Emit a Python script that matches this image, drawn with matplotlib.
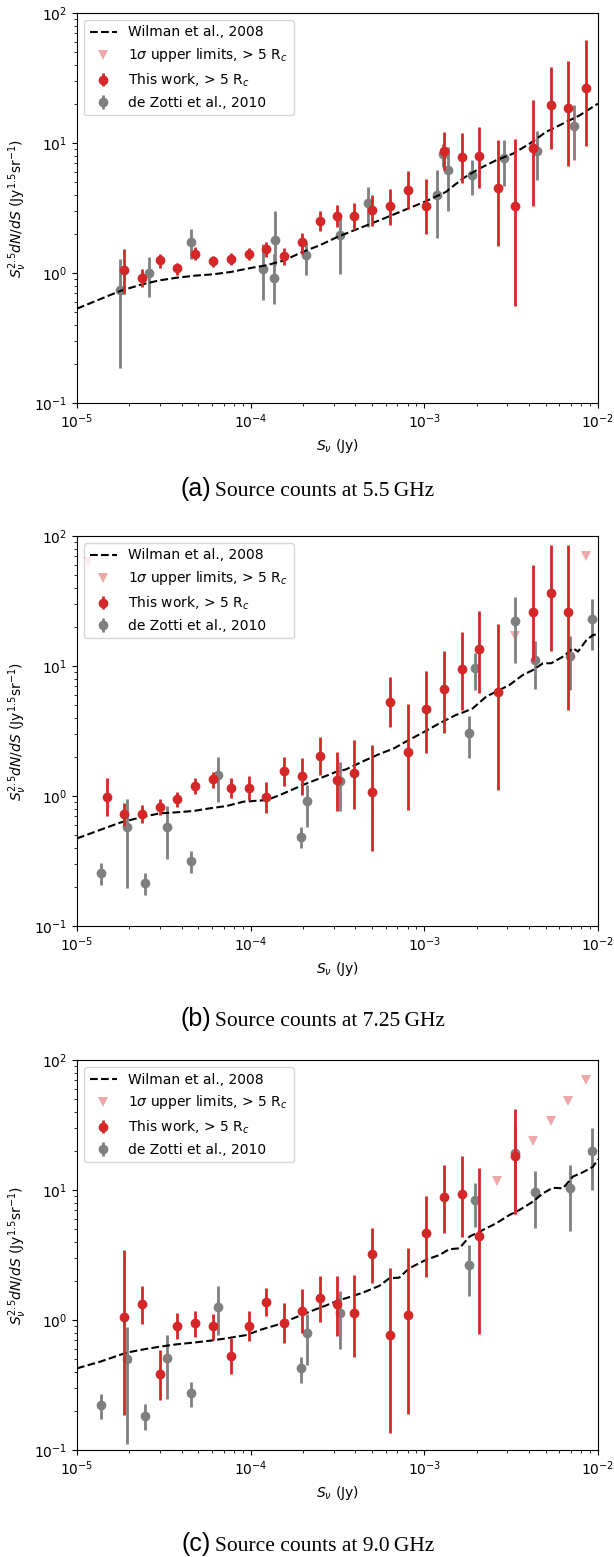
import matplotlib
matplotlib.use('Agg')
import matplotlib.pyplot as plt

# ---- panel (a): 5.5 GHz ----
a_red_s = [1.87e-5, 2.37e-5, 2.99e-5, 3.78e-5, 4.78e-5, 6.07e-5, 7.67e-5, 9.74e-5, 1.23e-4,
           1.56e-4, 1.98e-4, 2.50e-4, 3.15e-4, 3.96e-4, 5.01e-4, 6.37e-4, 8.05e-4, 1.02e-3,
           1.30e-3, 1.64e-3, 2.07e-3, 2.64e-3, 3.33e-3, 4.22e-3, 5.33e-3, 6.75e-3, 8.57e-3]
a_red_v = [1.05, 0.92, 1.25, 1.09, 1.41, 1.23, 1.28, 1.41, 1.53, 1.36, 1.72, 2.51, 2.74, 2.73,
           3.03, 3.26, 4.32, 3.28, 8.68, 7.80, 7.94, 4.53, 3.26, 9.20, 19.6, 18.7, 26.6]
a_red_hi = [1.54, 1.08, 1.41, 1.20, 1.58, 1.35, 1.43, 1.57, 1.73, 1.56, 2.03, 2.98, 3.35, 3.47,
            3.96, 4.45, 6.05, 5.25, 12.1, 11.9, 13.3, 10.5, 10.7, 21.3, 38.4, 42.7, 61.6]
a_red_lo = [0.69, 0.78, 1.09, 0.97, 1.27, 1.11, 1.15, 1.27, 1.33, 1.15, 1.41, 2.10, 2.26, 2.13,
            2.29, 2.33, 3.12, 2.01, 6.16, 4.92, 4.53, 1.61, 0.56, 3.26, 9.04, 6.65, 9.48]
a_lim_s = []
a_lim_v = []
a_grey_s = [1.77e-5, 2.6e-5, 4.53e-5, 1.18e-4, 1.36e-4, 1.38e-4, 2.08e-4, 3.26e-4, 4.75e-4,
            1.19e-3, 1.28e-3, 1.37e-3, 1.88e-3, 2.86e-3, 4.43e-3, 7.28e-3]
a_grey_v = [0.745, 1.0, 1.73, 1.07, 0.91, 1.80, 1.38, 1.95, 3.48, 4.0, 8.18, 6.16, 5.67, 7.62, 8.68, 13.5]
a_grey_hi = [1.29, 1.33, 2.17, 1.68, 1.41, 2.98, 1.73, 2.86, 4.59, 6.17, 9.9, 9.31, 7.36, 10.5, 12.3, 19.5]
a_grey_lo = [0.185, 0.653, 1.29, 0.62, 0.58, 1.15, 0.96, 0.99, 2.26, 1.87, 6.5, 3.0, 3.96, 4.64, 5.16, 7.36]
a_wil_s = [1.0e-5, 1.77e-5, 2.37e-5, 2.99e-5, 3.78e-5, 4.78e-5, 6.07e-5, 7.67e-5, 1.0e-4, 1.23e-4,
           1.56e-4, 1.98e-4, 2.49e-4, 3.15e-4, 3.53e-4, 5.5e-4, 1.0e-3, 1.33e-3, 1.66e-3, 2.07e-3,
           2.59e-3, 3.24e-3, 4.04e-3, 5.04e-3, 6.28e-3, 7.83e-3, 1.0e-2]
a_wil_v = [0.532, 0.727, 0.818, 0.878, 0.921, 0.954, 0.977, 1.018, 1.093, 1.146, 1.25, 1.45, 1.63,
           1.89, 2.01, 2.54, 3.52, 4.2, 5.32, 6.35, 7.36, 8.28, 9.88, 12.2, 14.1, 16.3, 20.1]

# ---- panel (b): 7.25 GHz ----
b_red_s = [1.48e-5, 1.87e-5, 2.37e-5, 2.99e-5, 3.78e-5, 4.78e-5, 6.07e-5, 7.67e-5, 9.74e-5,
           1.23e-4, 1.56e-4, 1.98e-4, 2.50e-4, 3.15e-4, 3.96e-4, 5.01e-4, 6.37e-4, 8.05e-4,
           1.02e-3, 1.30e-3, 1.64e-3, 2.07e-3, 2.64e-3, 4.22e-3, 5.33e-3, 6.75e-3]
b_red_v = [0.99, 0.727, 0.727, 0.818, 0.94, 1.19, 1.34, 1.15, 1.16, 0.977, 1.57, 1.43, 2.04,
           1.33, 1.51, 1.07, 5.32, 2.19, 4.64, 6.65, 9.43, 13.4, 6.35, 25.9, 36.6, 26.2]
b_red_hi = [1.37, 0.88, 0.853, 0.94, 1.08, 1.37, 1.54, 1.37, 1.43, 1.29, 2.01, 1.97, 2.83, 2.19,
            2.70, 2.47, 8.28, 5.1, 9.16, 13.1, 18.4, 26.5, 20.9, 59.8, 85.3, 85.3]
b_red_lo = [0.70, 0.587, 0.616, 0.71, 0.83, 1.04, 1.15, 0.96, 0.93, 0.735, 1.19, 1.02, 1.45, 0.76,
            0.79, 0.38, 3.38, 0.78, 2.13, 3.07, 4.59, 6.16, 1.11, 11.0, 13.1, 4.59]
b_lim_s = [1.16e-5, 3.33e-3, 8.57e-3]
b_lim_v = [63.5, 17.0, 70.2]
b_grey_s = [1.37e-5, 1.93e-5, 2.47e-5, 3.31e-5, 4.52e-5, 6.52e-5, 1.95e-4, 2.10e-4, 3.27e-4,
            1.80e-3, 1.97e-3, 3.33e-3, 4.35e-3, 6.87e-3, 9.23e-3]
b_grey_v = [0.254, 0.574, 0.213, 0.581, 0.318, 1.45, 0.487, 0.92, 1.31, 3.07, 9.6, 22.3, 11.1, 11.9, 22.9]
b_grey_hi = [0.303, 0.95, 0.254, 0.838, 0.38, 2.01, 0.581, 1.22, 1.84, 4.12, 12.5, 34.1, 15.6, 17.0, 32.6]
b_grey_lo = [0.207, 0.195, 0.173, 0.326, 0.257, 0.904, 0.396, 0.574, 0.77, 1.95, 6.53, 10.5, 6.62, 6.53, 13.3]
b_wil_s = [1.0e-5, 1.77e-5, 2.41e-5, 3.01e-5, 3.75e-5, 4.68e-5, 5.83e-5, 7.28e-5, 9.08e-5, 1.24e-4,
           1.48e-4, 2.01e-4, 2.51e-4, 3.13e-4, 3.53e-4, 4.60e-4, 5.50e-4, 6.71e-4, 7.83e-4, 1.0e-3,
           1.22e-3, 1.52e-3, 1.66e-3, 1.90e-3, 2.27e-3, 2.59e-3, 3.09e-3, 3.69e-3, 4.22e-3, 4.82e-3,
           5.38e-3, 6.28e-3, 7.18e-3, 7.67e-3, 8.57e-3, 9.35e-3, 1.0e-2]
b_wil_v = [0.472, 0.624, 0.693, 0.736, 0.749, 0.767, 0.804, 0.838, 0.904, 0.931, 1.02, 1.22, 1.37,
           1.54, 1.60, 1.89, 2.10, 2.33, 2.62, 3.12, 3.62, 4.20, 4.38, 4.72, 5.81, 6.35, 7.14, 8.53,
           9.31, 10.5, 10.5, 11.8, 13.7, 12.9, 15.8, 17.3, 17.6]

# ---- panel (c): 9.0 GHz ----
c_red_s = [1.87e-5, 2.37e-5, 2.99e-5, 3.78e-5, 4.78e-5, 6.07e-5, 7.67e-5, 9.74e-5, 1.23e-4,
           1.56e-4, 1.98e-4, 2.50e-4, 3.15e-4, 3.96e-4, 5.01e-4, 6.37e-4, 8.05e-4, 1.02e-3,
           1.30e-3, 1.64e-3, 2.07e-3, 3.33e-3]
c_red_v = [1.06, 1.33, 0.384, 0.904, 0.94, 0.904, 0.532, 0.904, 1.38, 0.953, 1.18, 1.47, 1.33,
           1.14, 3.2, 0.767, 1.09, 4.64, 8.79, 9.31, 4.45, 18.3]
c_red_hi = [3.45, 1.84, 0.587, 1.14, 1.18, 1.12, 0.723, 1.17, 1.75, 1.34, 1.72, 2.18, 2.18, 2.22,
            5.07, 2.5, 3.56, 9.04, 15.7, 18.3, 14.7, 41.8]
c_red_lo = [0.186, 0.93, 0.242, 0.71, 0.744, 0.70, 0.384, 0.693, 1.07, 0.662, 0.79, 0.97, 0.753,
            0.516, 1.91, 0.134, 0.189, 2.13, 4.64, 4.32, 0.78, 6.5]
c_lim_s = [2.62e-3, 4.22e-3, 5.33e-3, 6.75e-3, 8.57e-3]
c_lim_v = [11.7, 23.9, 34.1, 48.7, 70.2]
c_grey_s = [1.37e-5, 1.93e-5, 2.47e-5, 3.31e-5, 4.52e-5, 6.46e-5, 1.95e-4, 2.10e-4, 3.27e-4,
            1.80e-3, 1.97e-3, 3.33e-3, 4.35e-3, 6.87e-3, 9.23e-3]
c_grey_v = [0.222, 0.498, 0.184, 0.507, 0.276, 1.27, 0.425, 0.80, 1.14, 2.65, 8.38, 19.4, 9.6, 10.3, 20.0]
c_grey_hi = [0.27, 0.88, 0.226, 0.767, 0.336, 1.83, 0.516, 1.12, 1.68, 3.78, 11.4, 31.1, 14.1, 15.6, 29.8]
c_grey_lo = [0.172, 0.112, 0.143, 0.245, 0.213, 0.767, 0.326, 0.451, 0.594, 1.53, 5.16, 6.53, 5.07, 4.86, 10.0]
c_wil_s = [1.0e-5, 1.36e-5, 1.93e-5, 2.41e-5, 3.01e-5, 3.75e-5, 4.68e-5, 5.83e-5, 7.28e-5, 9.49e-5,
           1.13e-4, 1.41e-4, 1.76e-4, 2.30e-4, 2.74e-4, 3.27e-4, 3.53e-4, 4.41e-4, 5.50e-4, 6.28e-4,
           7.18e-4, 8.19e-4, 1.02e-3, 1.22e-3, 1.39e-3, 1.59e-3, 1.82e-3, 2.17e-3, 2.59e-3, 3.09e-3,
           3.53e-3, 4.22e-3, 4.82e-3, 5.50e-3, 6.28e-3, 7.18e-3, 8.19e-3, 9.35e-3, 1.0e-2]
c_wil_v = [0.425, 0.478, 0.561, 0.594, 0.624, 0.650, 0.670, 0.693, 0.723, 0.767, 0.838, 0.915, 1.03,
           1.19, 1.30, 1.43, 1.47, 1.62, 1.83, 2.09, 2.12, 2.50, 2.90, 3.16, 3.50, 3.56, 4.38, 4.92,
           5.54, 6.42, 7.02, 8.13, 9.43, 10.4, 10.3, 12.7, 13.7, 15.1, 17.2]

captions = ['(a)', '(b)', '(c)']
cap_text = ['Source counts at 5.5\u2009GHz', 'Source counts at 7.25\u2009GHz', 'Source counts at 9.0\u2009GHz']

panels = [
    (a_wil_s, a_wil_v, a_lim_s, a_lim_v, a_red_s, a_red_v, a_red_lo, a_red_hi, a_grey_s, a_grey_v, a_grey_lo, a_grey_hi),
    (b_wil_s, b_wil_v, b_lim_s, b_lim_v, b_red_s, b_red_v, b_red_lo, b_red_hi, b_grey_s, b_grey_v, b_grey_lo, b_grey_hi),
    (c_wil_s, c_wil_v, c_lim_s, c_lim_v, c_red_s, c_red_v, c_red_lo, c_red_hi, c_grey_s, c_grey_v, c_grey_lo, c_grey_hi),
]

W, H = 614, 1557
fig = plt.figure(figsize=(W / 100, H / 100), dpi=100)

tops = [13, 536, 1060]
cap_base = [496, 1026, 1551]
ax_h = 390
left, right = 77, 598


def yerr(v, lo, hi):
    return [[a - b for a, b in zip(v, lo)], [b - a for a, b in zip(v, hi)]]


for i, p in enumerate(panels):
    wil_s, wil_v, lim_s, lim_v, rs, rv, rlo, rhi, gs, gv, glo, ghi = p
    top = tops[i]
    ax = fig.add_axes([left / W, 1 - (top + ax_h) / H, (right - left) / W, ax_h / H])

    ax.plot(wil_s, wil_v, 'k--', label='Wilman et al., 2008', zorder=2.5)
    ax.plot(lim_s, lim_v, 'v', color='tab:red', alpha=0.4, markersize=7, markeredgewidth=0,
            label=r'1$\sigma$ upper limits, > 5 R$_c$')
    ax.errorbar(rs, rv, yerr=yerr(rv, rlo, rhi), fmt='o', color='tab:red', markersize=6,
                elinewidth=2, label=r'This work, > 5 R$_c$', zorder=3)
    ax.errorbar(gs, gv, yerr=yerr(gv, glo, ghi), fmt='o', color='tab:gray', markersize=6,
                elinewidth=2, label='de Zotti et al., 2010', zorder=2)

    ax.set_xscale('log')
    ax.set_yscale('log')
    ax.set_xlim(1e-5, 1e-2)
    ax.set_ylim(0.1, 100)
    ax.set_xlabel(r'$S_{\nu}$ (Jy)')
    ax.set_ylabel(r'$S_{\nu}^{2.5}dN/dS$ (Jy$^{1.5}$sr$^{-1}$)')
    ax.legend(loc='upper left')

    cy = 1 - cap_base[i] / H
    fig.text(211 / W, cy, captions[i], fontsize=18, family=['Liberation Sans', 'DejaVu Sans'],
             ha='right', va='baseline')
    fig.text(215 / W, cy, cap_text[i], fontsize=15.5, family=['Liberation Serif', 'DejaVu Serif'],
             ha='left', va='baseline')

fig.savefig('out.png', dpi=100)
